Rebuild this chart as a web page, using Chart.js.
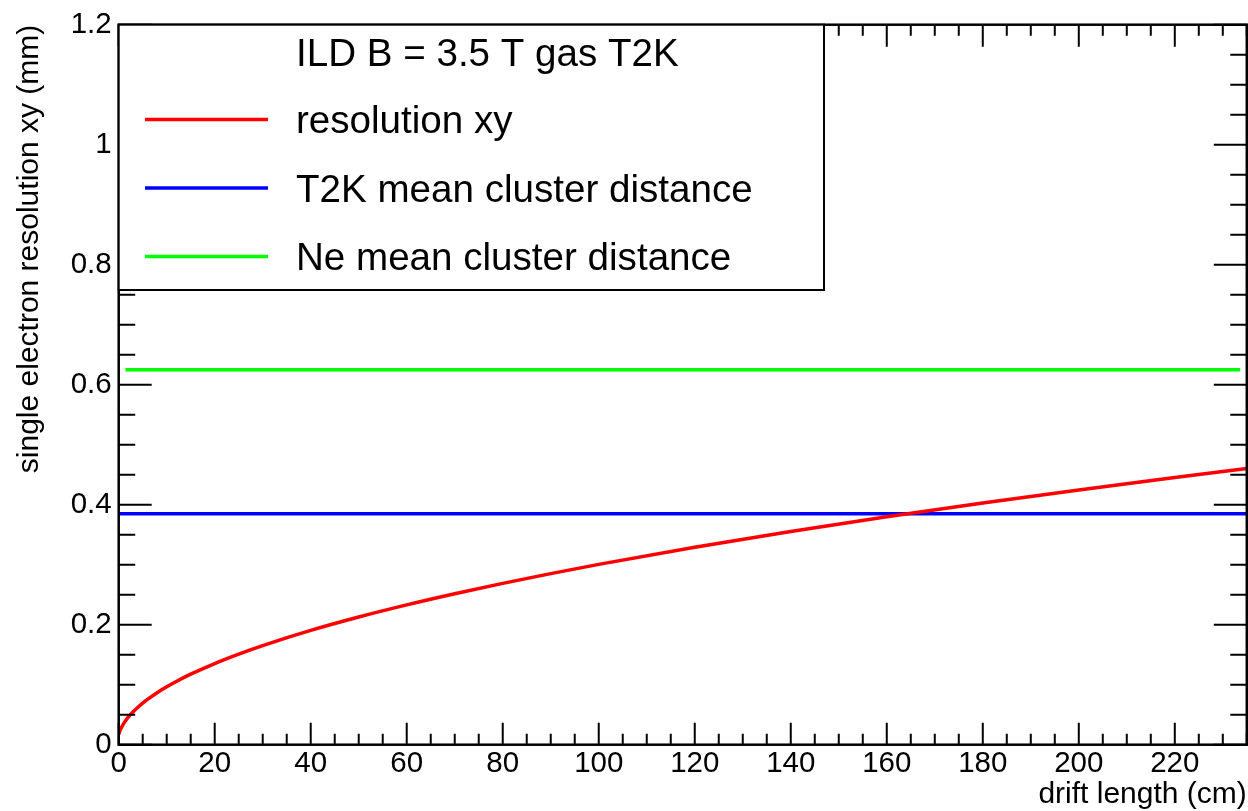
<!DOCTYPE html>
<html>
<head>
<meta charset="utf-8">
<script src="https://cdn.jsdelivr.net/npm/chart.js@4.4.0/dist/chart.umd.min.js"></script>
<style>
html,body{margin:0;padding:0;background:#fff;}
canvas{display:block;}
</style>
</head>
<body>
<canvas id="c" width="1248" height="811"></canvas>
<script>
// ---- data ----
const resolutionX = [0, 0.25, 0.5, 1, 1.5, 2, 3, 4, 5, 6, 8, 10, 12, 15, 20, 25, 30, 40, 50, 60, 70, 80, 90, 100, 120, 140, 160, 180, 200, 220, 235];
const resolutionY = [0.0173, 0.0229, 0.0274, 0.0346, 0.0406, 0.0458, 0.0548, 0.0624, 0.0693, 0.0755, 0.0866, 0.0964, 0.1054, 0.1175, 0.1353, 0.1510, 0.1652, 0.1905, 0.2128, 0.2330, 0.2516, 0.2689, 0.2851, 0.3005, 0.3291, 0.3554, 0.3799, 0.4029, 0.4246, 0.4453, 0.4602];
const t2kX = [0, 235];
const t2kY = [0.385, 0.385];
const neX = [1.4, 233.6];
const neY = [0.625, 0.625];
const seriesNames = ['resolution xy', 'T2K mean cluster distance', 'Ne mean cluster distance'];
const legendTitle = 'ILD B = 3.5 T gas T2K';
const xTickValues = [0, 20, 40, 60, 80, 100, 120, 140, 160, 180, 200, 220];
const xTickLabels = ['0', '20', '40', '60', '80', '100', '120', '140', '160', '180', '200', '220'];
const yTickValues = [0, 0.2, 0.4, 0.6, 0.8, 1.0, 1.2];
const yTickLabels = ['0', '0.2', '0.4', '0.6', '0.8', '1', '1.2'];
const xTitle = 'drift length (cm)';
const yTitle = 'single electron resolution xy (mm)';

const FONT = '"Liberation Sans", Arial, Helvetica, sans-serif';
const toPts = (xs, ys) => xs.map((x, i) => ({x: x, y: ys[i]}));

const rootFrame = {
  id: 'rootFrame',
  afterDatasetsDraw(chart) {
    const ctx = chart.ctx;
    const a = chart.chartArea;
    const xs = chart.scales.x, ys = chart.scales.y;
    ctx.save();
    ctx.strokeStyle = '#000';
    ctx.lineWidth = 2;
    ctx.beginPath();
    for (let v = xs.min; v <= xs.max + 1e-9; v += 5) {
      const px = xs.getPixelForValue(v);
      const major = Math.abs(v % 20) < 1e-9;
      const len = major ? 22 : 11;
      ctx.moveTo(px, a.bottom); ctx.lineTo(px, a.bottom - len);
      ctx.moveTo(px, a.top); ctx.lineTo(px, a.top + len);
    }
    for (let i = 0; i <= 24; i++) {
      const v = i * 0.05;
      const py = ys.getPixelForValue(v);
      const major = i % 4 === 0;
      const len = major ? 33 : 16.5;
      ctx.moveTo(a.left, py); ctx.lineTo(a.left + len, py);
      ctx.moveTo(a.right, py); ctx.lineTo(a.right - len, py);
    }
    ctx.stroke();
    ctx.lineWidth = 2.5;
    ctx.strokeRect(a.left, a.top, a.right - a.left, a.bottom - a.top);

    // legend box
    const lx0 = a.left, ly0 = a.top, lx1 = 824, ly1 = 290;
    ctx.fillStyle = '#fff';
    ctx.fillRect(lx0, ly0, lx1 - lx0, ly1 - ly0);
    ctx.lineWidth = 2;
    ctx.strokeStyle = '#000';
    ctx.strokeRect(lx0, ly0, lx1 - lx0, ly1 - ly0);
    ctx.fillStyle = '#000';
    ctx.font = '38.6px ' + FONT;
    ctx.textAlign = 'left';
    ctx.textBaseline = 'alphabetic';
    ctx.fillText(legendTitle, 296, 66);
    const rowY = [119.5, 188, 256.5];
    chart.data.datasets.forEach((ds, i) => {
      ctx.strokeStyle = ds.borderColor;
      ctx.lineWidth = 3.5;
      ctx.beginPath();
      ctx.moveTo(145, rowY[i]); ctx.lineTo(268, rowY[i]);
      ctx.stroke();
      ctx.fillStyle = '#000';
      ctx.fillText(ds.label, 296, rowY[i] + 13.8);
    });
    ctx.restore();
  }
};

new Chart(document.getElementById('c'), {
  type: 'line',
  data: {
    datasets: [
      {label: seriesNames[0], data: toPts(resolutionX, resolutionY), borderColor: '#ff0000', borderWidth: 3.5, pointRadius: 0, cubicInterpolationMode: 'monotone', fill: false},
      {label: seriesNames[1], data: toPts(t2kX, t2kY), borderColor: '#0000ff', borderWidth: 3.5, pointRadius: 0, fill: false},
      {label: seriesNames[2], data: toPts(neX, neY), borderColor: '#00ff00', borderWidth: 3.5, pointRadius: 0, fill: false}
    ]
  },
  options: {
    responsive: false,
    animation: false,
    devicePixelRatio: 1,
    layout: {padding: {top: 17.8, right: 1.2, left: 0, bottom: 0}},
    plugins: {legend: {display: false}, tooltip: {enabled: false}},
    scales: {
      x: {
        type: 'linear', min: 0, max: 235,
        grid: {display: false, drawTicks: false},
        border: {display: false},
        afterBuildTicks: s => { s.ticks = xTickValues.map(v => ({value: v})); },
        afterFit: s => { s.height = 66.3; },
        ticks: {
          color: '#000', padding: 1, maxRotation: 0, autoSkip: false,
          font: {family: FONT, size: 29.5},
          callback: (v, i) => xTickLabels[xTickValues.indexOf(v)] ?? ''
        },
        title: {display: true, text: xTitle, align: 'end', color: '#000', font: {family: FONT, size: 30}, padding: {top: 0, bottom: -1.6}}
      },
      y: {
        type: 'linear', min: 0, max: 1.2,
        grid: {display: false, drawTicks: false},
        border: {display: false},
        afterBuildTicks: s => { s.ticks = yTickValues.map(v => ({value: v})); },
        afterFit: s => { s.width = 118.7; },
        ticks: {
          color: '#000', padding: 7, autoSkip: false,
          font: {family: FONT, size: 29.5},
          callback: (v, i) => yTickLabels[i]
        },
        title: {display: true, text: yTitle, align: 'end', color: '#000', font: {family: FONT, size: 30}, padding: {top: 11.5, bottom: 0}}
      }
    }
  },
  plugins: [rootFrame]
});
</script>
</body>
</html>
